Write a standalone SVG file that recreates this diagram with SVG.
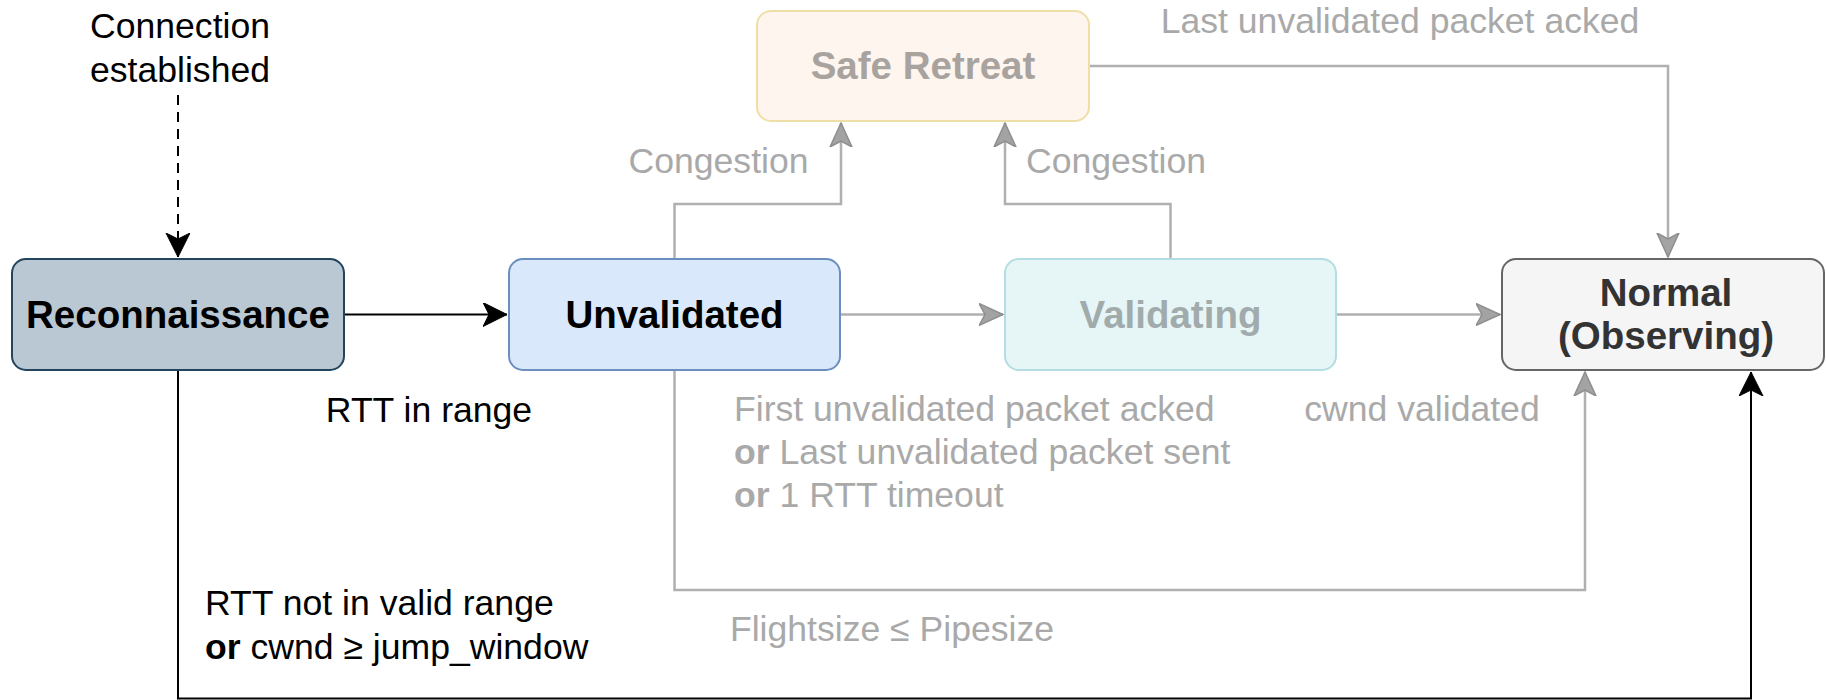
<svg xmlns="http://www.w3.org/2000/svg" width="1826" height="700" viewBox="0 0 1826 700">
<style>
text{font-family:"Liberation Sans",Arial,sans-serif}
.lbl{font-size:35.6px;fill:#000}
.glbl{font-size:35.6px;fill:#a9a9a9}
.node{font-size:38.5px;font-weight:bold;text-anchor:middle}
.blk{fill:none;stroke:#000;stroke-width:2}
.gry{fill:none;stroke:#b0b0b0;stroke-width:2.5}
.b{font-weight:bold}
</style>
<defs>
<marker id="ab" markerUnits="userSpaceOnUse" markerWidth="26" markerHeight="26" refX="24" refY="12" orient="auto" viewBox="0 0 26 26">
<path d="M0,0 L24,12 L0,24 L6,12 Z" fill="#000" stroke="#000" stroke-width="1"/>
</marker>
<marker id="ag" markerUnits="userSpaceOnUse" markerWidth="26" markerHeight="26" refX="24" refY="12" orient="auto" viewBox="0 0 26 26">
<path d="M0,1 L24,12 L0,23 L6,12 Z" fill="#a3a3a3" stroke="#8e8e8e" stroke-width="1.5"/>
</marker>
</defs>
<rect width="1826" height="700" fill="#fff"/>
<g id="connectors">
<path class="blk" d="M178,95 V257" stroke-dasharray="10 7" marker-end="url(#ab)"/>
<path class="blk" d="M345,314.5 H507" marker-end="url(#ab)"/>
<path class="blk" d="M178,370 V698.5 H1751 V372" marker-end="url(#ab)"/>
<path class="gry" d="M840,314.5 H1003" marker-end="url(#ag)"/>
<path class="gry" d="M1336,314.5 H1500" marker-end="url(#ag)"/>
<path class="gry" d="M674.5,259 V204 H841 V123" marker-end="url(#ag)"/>
<path class="gry" d="M1170.5,259 V204 H1005 V123" marker-end="url(#ag)"/>
<path class="gry" d="M1089,66 H1668 V257" marker-end="url(#ag)"/>
<path class="gry" d="M674.5,370 V590 H1585 V372" marker-end="url(#ag)"/>
</g>
<g id="labels">
<text class="lbl" x="180" y="37.5" text-anchor="middle">Connection</text>
<text class="lbl" x="180" y="81.5" text-anchor="middle">established</text>
<text class="lbl" x="429" y="421.5" text-anchor="middle">RTT in range</text>
<text class="lbl" x="205" y="614.5">RTT not in valid range</text>
<text class="lbl" x="205" y="658.5"><tspan class="b">or</tspan> cwnd ≥ jump_window</text>
<text class="glbl" x="718.5" y="172.5" text-anchor="middle">Congestion</text>
<text class="glbl" x="1116" y="172.5" text-anchor="middle">Congestion</text>
<text class="glbl" x="1400" y="33" text-anchor="middle">Last unvalidated packet acked</text>
<text class="glbl" x="734" y="421">First unvalidated packet acked</text>
<text class="glbl" x="734" y="464"><tspan class="b">or</tspan> Last unvalidated packet sent</text>
<text class="glbl" x="734" y="507"><tspan class="b">or</tspan> 1 RTT timeout</text>
<text class="glbl" x="1422" y="421" text-anchor="middle">cwnd validated</text>
<text class="glbl" x="892" y="641" text-anchor="middle">Flightsize ≤ Pipesize</text>
</g>
<g id="reconnaissance">
<rect x="12" y="259" width="332" height="111" rx="14" fill="#bac8d3" stroke="#23445d" stroke-width="2"/>
<text class="node" x="178" y="328" fill="#000">Reconnaissance</text>
</g>
<g id="unvalidated">
<rect x="509" y="259" width="331" height="111" rx="14" fill="#dae8fc" stroke="#6c8ebf" stroke-width="2"/>
<text class="node" x="674.5" y="328" fill="#000">Unvalidated</text>
</g>
<g id="validating">
<rect x="1005" y="259" width="331" height="111" rx="14" fill="#e6f6f7" stroke="#b4dde1" stroke-width="2"/>
<text class="node" x="1170.5" y="328" fill="#a2abab">Validating</text>
</g>
<g id="safe-retreat">
<rect x="757" y="11" width="332" height="110" rx="14" fill="#fdf5ee" stroke="#efdea6" stroke-width="2"/>
<text class="node" x="923" y="79" fill="#a8a39e">Safe Retreat</text>
</g>
<g id="normal">
<rect x="1502" y="259" width="322" height="111" rx="14" fill="#f5f5f5" stroke="#666" stroke-width="2"/>
<text class="node" x="1666" y="306" fill="#333">Normal</text>
<text class="node" x="1666" y="349" fill="#333">(Observing)</text>
</g>
</svg>
